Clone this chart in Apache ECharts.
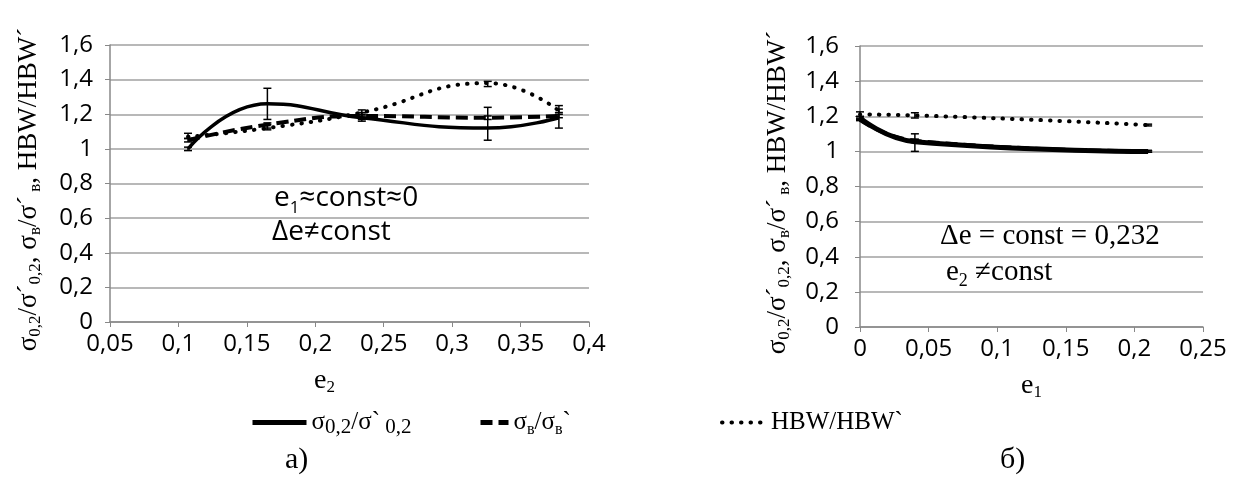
<!DOCTYPE html>
<html>
<head>
<meta charset="utf-8">
<script src="https://cdn.jsdelivr.net/npm/echarts@6/dist/echarts.min.js"></script>
<style>
  html, body { margin: 0; padding: 0; background: #fff; }
  #chart { width: 1233px; height: 482px; }
</style>
</head>
<body>
<div id="chart"></div>
<script>
// chart a): e1 ~ const ~ 0, x = e2
const e2 = [0.107, 0.165, 0.234, 0.326, 0.378];
const sig02A = [1.0, 1.26, 1.18, 1.12, 1.18];
const sig02ALo = [0.99, 1.17, 1.16, 1.05, 1.12];
const sig02AHi = [1.01, 1.35, 1.2, 1.24, 1.25];
const sigBA = [1.05, 1.14, 1.19, 1.18, 1.19];
const sigBALo = [1.04, 1.12, 1.17, 1.17, 1.18];
const sigBAHi = [1.06, 1.15, 1.21, 1.19, 1.2];
const hbwA = [1.07, 1.12, 1.21, 1.38, 1.22];
const hbwALo = [1.06, 1.11, 1.19, 1.36, 1.21];
const hbwAHi = [1.09, 1.14, 1.225, 1.39, 1.23];

// chart б): delta e = const = 0,232, x = e1
const e1 = [0, 0.04, 0.21];
const sig02B = [1.19, 1.055, 1.0];
const sig02BLo = [1.18, 1.0, 0.995];
const sig02BHi = [1.2, 1.1, 1.005];
const sigBB = [1.18, 1.06, 1.0];
const sigBBLo = [1.175, 1.05, 0.995];
const sigBBHi = [1.185, 1.07, 1.005];
const hbwB = [1.21, 1.205, 1.15];
const hbwBLo = [1.19, 1.19, 1.145];
const hbwBHi = [1.225, 1.22, 1.155];

// axis ranges / ticks
const yMin = 0, yMax = 1.6, yStep = 0.2;
const xAMin = 0.05, xAMax = 0.4, xBMin = 0, xBMax = 0.25, xStep = 0.05;

const N1 = "σ0,2/σ`0,2";
const N2 = "σв/σв`";
const N3 = "HBW/HBW`";
const legendRich = {};
legendRich[N1] = "{m|σ}{b|0,2}{m|/σ`}{b| 0,2}";
legendRich[N2] = "{m|σ}{s|в}{m|/σ}{s|в}{m|`}";
legendRich[N3] = "{m|HBW/HBW`}";

const serif = "'Liberation Serif', 'Times New Roman', serif";
const sans = "'Open Sans', 'Noto Sans', sans-serif";

const richSerif = (size, sub) => ({
  m: { fontFamily: serif, fontSize: size, lineHeight: 30, color: "#000" },
  s: { fontFamily: serif, fontSize: sub, lineHeight: sub, verticalAlign: "bottom", color: "#000" },
  b: { fontFamily: serif, fontSize: 21, lineHeight: 20, verticalAlign: "bottom", color: "#000" }
});

const comma = v => String(+v.toFixed(2)).replace(".", ",");
const gray = "#a0a0a0";

function xAxis(idx, min, max, nameRich, pad) {
  return {
    type: "value", gridIndex: idx, min: min, max: max, interval: xStep,
    name: nameRich, nameLocation: "middle", nameGap: 44,
    nameTextStyle: { rich: richSerif(28, 17), padding: pad },
    axisLine: { lineStyle: { color: "#888", width: 1.5 } },
    axisTick: { show: true, length: 5, lineStyle: { color: "#888" } },
    axisLabel: { formatter: comma, color: "#000", fontFamily: sans, fontSize: 24, margin: 10 },
    splitLine: { show: false }
  };
}
const yName = "{m|σ}{s|0,2}{m|/σ´}{s|0,2}{m|, σ}{s|в}{m|/σ´}{s| в}{m|, HBW/HBW´}";
function yAxis(idx, gap, margin) {
  return {
    type: "value", gridIndex: idx, min: yMin, max: yMax, interval: yStep,
    name: yName, nameLocation: "middle", nameGap: gap,
    nameTextStyle: { rich: richSerif(27, 17), padding: [0, 12, 0, 0] },
    axisLine: { show: true, lineStyle: { color: "#888", width: 1.5 } },
    axisTick: { show: true, length: 5, lineStyle: { color: "#888" } },
    axisLabel: { formatter: comma, color: "#000", fontFamily: sans, fontSize: 24, margin: margin },
    splitLine: { lineStyle: { color: gray, width: 1.5 } }
  };
}

const styles = {};
styles[N1] = { color: "#000", width: 4, type: "solid" };
styles[N2] = { color: "#000", width: 4, type: [12, 6] };
styles[N3] = { color: "#000", width: 4, type: [0.5, 9], cap: "round" };

function lineSeries(name, xs, ys, idx, width) {
  const ls = Object.assign({}, styles[name]);
  if (width) ls.width = width;
  return {
    name: name, type: "line", xAxisIndex: idx, yAxisIndex: idx,
    data: xs.map((x, i) => [x, ys[i]]),
    smooth: 0.5, symbol: "none", lineStyle: ls, itemStyle: { color: "#000" },
    z: 3
  };
}

function errSeries(xs, lo, hi, idx) {
  return {
    type: "custom", xAxisIndex: idx, yAxisIndex: idx, silent: true, z: 4,
    data: xs.map((x, i) => [x, lo[i], hi[i]]),
    renderItem: (params, api) => {
      const a = api.coord([api.value(0), api.value(2)]);
      const b = api.coord([api.value(0), api.value(1)]);
      const w = 4;
      const st = { stroke: "#000", lineWidth: 1.5 };
      return {
        type: "group",
        children: [
          { type: "line", shape: { x1: a[0], y1: a[1], x2: b[0], y2: b[1] }, style: st },
          { type: "line", shape: { x1: a[0] - w, y1: a[1], x2: a[0] + w, y2: a[1] }, style: st },
          { type: "line", shape: { x1: b[0] - w, y1: b[1], x2: b[0] + w, y2: b[1] }, style: st }
        ]
      };
    }
  };
}

function legendItem(name, left, w) {
  return {
    data: [name], left: left, top: 410, itemWidth: w, itemHeight: 14, padding: 0,
    formatter: n => legendRich[n],
    textStyle: { rich: richSerif(25, 16) },
    itemStyle: { opacity: 0, borderWidth: 0 },
    lineStyle: Object.assign({}, styles[name], { width: name === N3 ? 4 : 5 }),
    selectedMode: false
  };
}

const chart = echarts.init(document.getElementById("chart"));
chart.setOption({
  animation: false,
  backgroundColor: "#fff",
  grid: [
    { left: 110, right: 644, top: 45, bottom: 160 },
    { left: 860, right: 30, top: 46, bottom: 155 }
  ],
  xAxis: [
    xAxis(0, xAMin, xAMax, "{m|e}{s|2}", [0, 50, 0, 0]),
    xAxis(1, xBMin, xBMax, "{m|e}{s|1}", [0, 0, 0, 0])
  ],
  yAxis: [yAxis(0, 66, 17), yAxis(1, 67, 21)],
  legend: [
    legendItem(N1, 250, 54),
    legendItem(N2, 478, 28),
    legendItem(N3, 720, 44)
  ],
  graphic: [
    { type: "text", left: 274, top: 184, style: { rich: { m: { fontFamily: sans, fontSize: 28, lineHeight: 38, fill: "#000" }, s: { fontFamily: sans, fontSize: 17, lineHeight: 17, verticalAlign: "bottom", fill: "#000" } }, text: "{m|e}{s|1}{m|≈const≈0}" } },
    { type: "text", left: 272, top: 218, style: { fontFamily: sans, fontSize: 28, fill: "#000", text: "Δe≠const" } },
    { type: "text", left: 940, top: 222, style: { fontFamily: serif, fontSize: 29, fill: "#000", text: "Δe = const = 0,232" } },
    { type: "text", left: 946, top: 258, style: { rich: { m: { fontFamily: serif, fontSize: 29, lineHeight: 36, fill: "#000" }, s: { fontFamily: serif, fontSize: 18, lineHeight: 18, verticalAlign: "bottom", fill: "#000" } }, text: "{m|e}{s|2}{m| ≠const}" } },
    { type: "text", left: 285, top: 445, style: { fontFamily: serif, fontSize: 30, fill: "#000", text: "a)" } },
    { type: "text", left: 1000, top: 445, style: { fontFamily: serif, fontSize: 30, fill: "#000", text: "б)" } }
  ],
  series: [
    lineSeries(N1, e2, sig02A, 0, 3.5),
    lineSeries(N2, e2, sigBA, 0),
    lineSeries(N3, e2, hbwA, 0),
    errSeries(e2, sig02ALo, sig02AHi, 0),
    errSeries(e2, sigBALo, sigBAHi, 0),
    errSeries(e2, hbwALo, hbwAHi, 0),
    lineSeries(N1, e1, sig02B, 1, 5),
    lineSeries(N2, e1, sigBB, 1),
    lineSeries(N3, e1, hbwB, 1),
    errSeries(e1, sig02BLo, sig02BHi, 1),
    errSeries(e1, sigBBLo, sigBBHi, 1),
    errSeries(e1, hbwBLo, hbwBHi, 1)
  ]
});
</script>
</body>
</html>
